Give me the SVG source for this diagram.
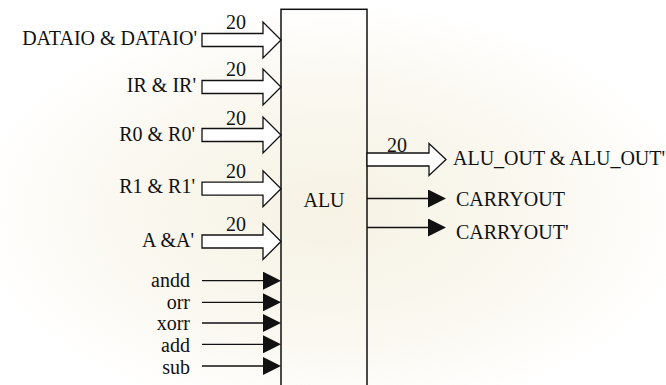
<svg xmlns="http://www.w3.org/2000/svg" xmlns:xlink="http://www.w3.org/1999/xlink" width="666" height="385" viewBox="0 0 666 385">
  <style>
    text { font-family: "Liberation Serif", "Times New Roman", serif; font-size: 20px; fill: #111; }
    .end { text-anchor: end; }
    .mid { text-anchor: middle; }
    .bus { fill: #fff; stroke: #111; stroke-width: 1.3; stroke-linejoin: miter; }
    .wire { stroke: #111; stroke-width: 1.3; fill: none; }
    .box { fill: none; stroke: #111; stroke-width: 1.5; }
  </style>
  <defs>
    <radialGradient id="tint" cx="0.5" cy="0.55" r="0.55">
      <stop offset="0" stop-color="#f6f2e4"/>
      <stop offset="0.6" stop-color="#faf8f0"/>
      <stop offset="1" stop-color="#ffffff"/>
    </radialGradient>
    <!-- wide bus arrow, tip at origin -->
    <path id="busIn" d="M-79,-6.5 H-18 V-18 L0,0 L-18,18 V6.5 H-79 Z"/>
    <path id="busOut" d="M-79,-6.5 H-17 V-16 L0,0 L-17,16 V6.5 H-79 Z"/>
    <marker id="head" markerUnits="userSpaceOnUse" markerWidth="18" markerHeight="18" refX="0" refY="9" orient="auto">
      <path d="M0,0 L18,9 L0,18 Z" fill="#111"/>
    </marker>
  </defs>

  <rect x="0" y="0" width="666" height="385" fill="url(#tint)"/>

  <!-- ALU block -->
  <g id="alu">
    <rect class="box" x="281" y="9.3" width="86" height="390"/>
    <text class="mid" x="324" y="207">ALU</text>
  </g>

  <!-- connectors -->
  <g id="connectors">
    <use href="#busIn" xlink:href="#busIn" class="bus" transform="translate(281,40)"/>
    <use href="#busIn" xlink:href="#busIn" class="bus" transform="translate(281,87)"/>
    <use href="#busIn" xlink:href="#busIn" class="bus" transform="translate(281,135)"/>
    <use href="#busIn" xlink:href="#busIn" class="bus" transform="translate(281,188.7)"/>
    <use href="#busIn" xlink:href="#busIn" class="bus" transform="translate(281,241.5)"/>
    <use href="#busOut" xlink:href="#busOut" class="bus" transform="translate(446,159.5)"/>

    <line class="wire" x1="202" y1="280.7" x2="263" y2="280.7" marker-end="url(#head)"/>
    <line class="wire" x1="202" y1="302.3" x2="263" y2="302.3" marker-end="url(#head)"/>
    <line class="wire" x1="202" y1="323" x2="263" y2="323" marker-end="url(#head)"/>
    <line class="wire" x1="202" y1="344.3" x2="263" y2="344.3" marker-end="url(#head)"/>
    <line class="wire" x1="202" y1="366" x2="263" y2="366" marker-end="url(#head)"/>

    <line class="wire" x1="367" y1="198.5" x2="428" y2="198.5" marker-end="url(#head)"/>
    <line class="wire" x1="367" y1="227.5" x2="428" y2="227.5" marker-end="url(#head)"/>

    <!-- bus widths -->
    <text x="226" y="29">20</text>
    <text x="226" y="76">20</text>
    <text x="226" y="125">20</text>
    <text x="226" y="178">20</text>
    <text x="226" y="231">20</text>
    <text x="387" y="152">20</text>
  </g>

  <!-- signal names -->
  <g id="in-dataio"><text class="end" x="197" y="45">DATAIO &amp; DATAIO'</text></g>
  <g id="in-ir"><text class="end" x="196" y="92">IR &amp; IR'</text></g>
  <g id="in-r0"><text class="end" x="195" y="141">R0 &amp; R0'</text></g>
  <g id="in-r1"><text class="end" x="195" y="193">R1 &amp; R1'</text></g>
  <g id="in-a"><text class="end" x="194" y="247">A &amp;A'</text></g>

  <g id="ctl-andd"><text class="end" x="190" y="287">andd</text></g>
  <g id="ctl-orr"><text class="end" x="190" y="308.5">orr</text></g>
  <g id="ctl-xorr"><text class="end" x="190" y="330">xorr</text></g>
  <g id="ctl-add"><text class="end" x="190" y="351.7">add</text></g>
  <g id="ctl-sub"><text class="end" x="190" y="374">sub</text></g>

  <g id="out-alu"><text x="453" y="165">ALU_OUT &amp; ALU_OUT'</text></g>
  <g id="out-carry"><text x="456" y="206">CARRYOUT</text></g>
  <g id="out-carry-n"><text x="456" y="239">CARRYOUT'</text></g>
</svg>
